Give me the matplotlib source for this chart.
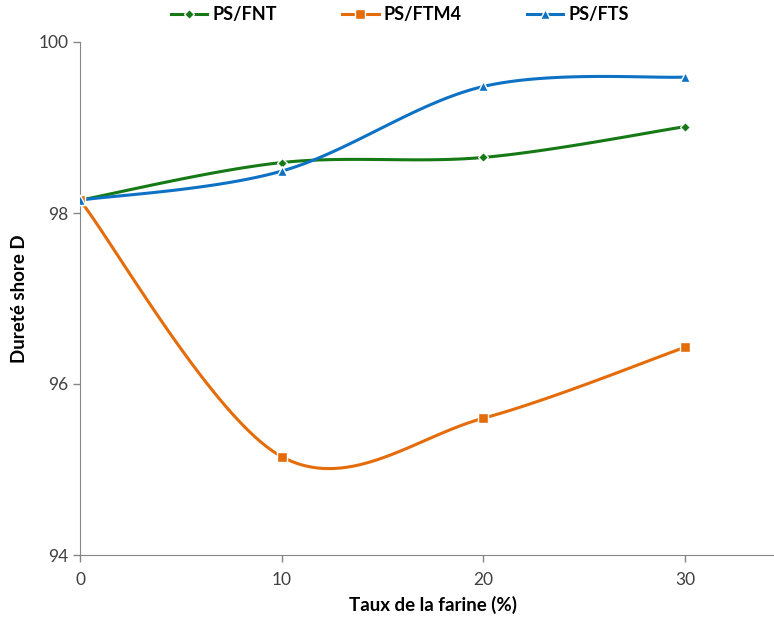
import numpy as np
import matplotlib.pyplot as plt

# taux de farine (%) et dureté shore D
taux = [0, 10, 20, 30]
fnt = [98.15, 98.59, 98.65, 99.01]
ftm4 = [98.15, 95.15, 95.60, 96.43]
fts = [98.15, 98.49, 99.48, 99.59]

plt.rcParams['font.family'] = ['Lato', 'DejaVu Sans']


def lisse(x, y, n=40):
    # courbe lissee type Excel (Bezier, tension 1/6)
    p = np.column_stack([x, y]).astype(float)
    ext = np.vstack([p[0], p, p[-1]])
    t = np.linspace(0, 1, n)[:, None]
    out = []
    for i in range(len(p) - 1):
        p0 = ext[i + 1]
        p3 = ext[i + 2]
        c1 = p0 + (ext[i + 2] - ext[i]) / 6
        c2 = p3 - (ext[i + 3] - ext[i + 1]) / 6
        seg = ((1 - t) ** 3) * p0 + 3 * ((1 - t) ** 2) * t * c1 + 3 * (1 - t) * t ** 2 * c2 + t ** 3 * p3
        out.append(seg)
    out = np.vstack(out)
    return out[:, 0], out[:, 1]


series = [
    ("PS/FNT", fnt, "#157a15", "D", 5),
    ("PS/FTM4", ftm4, "#e46c0a", "s", 7),
    ("PS/FTS", fts, "#0e72c4", "^", 7),
]

fig = plt.figure(figsize=(7.74, 6.23), dpi=100)
ax = fig.add_axes([80 / 774, 1 - 555 / 623, 35 * 20.17 / 774, (555 - 42) / 623])

handles = []
for nom, y, c, m, ms in series:
    xs, ys = lisse(taux, y)
    ax.plot(xs, ys, color=c, lw=2.2, solid_capstyle="round", zorder=2)
    ax.plot(taux, y, ls="none", marker=m, ms=ms, color=c, mec="white", mew=1, zorder=3)
    h, = ax.plot([], [], color=c, lw=2.2, marker=m, ms=ms, mec="white", mew=1)
    handles.append(h)

ax.set_xlim(0, 35)
ax.set_ylim(94, 100)
ax.set_xticks([0, 10, 20, 30])
ax.set_yticks([94, 96, 98, 100])
for s in ["top", "right"]:
    ax.spines[s].set_visible(False)
for s in ["left", "bottom"]:
    ax.spines[s].set_color("#868686")
ax.tick_params(colors="#868686", labelcolor="#404040", labelsize=12.5, length=5, width=1)
ax.tick_params(axis="x", pad=7)

ax.set_xlabel("Taux de la farine (%)", fontsize=13.5, fontweight="bold", labelpad=6)
ax.set_ylabel("Dureté shore D", fontsize=13.5, fontweight="bold")
ax.yaxis.set_label_coords(-52 / 706, 0.5)

leg = fig.legend(handles, [s[0] for s in series], ncol=3, loc="center",
                 bbox_to_anchor=(0.517, 0.976), frameon=False,
                 prop={"weight": "bold", "size": 13}, columnspacing=3.6,
                 handlelength=2.0, handletextpad=0.3)

fig.savefig("out.png", dpi=100)
